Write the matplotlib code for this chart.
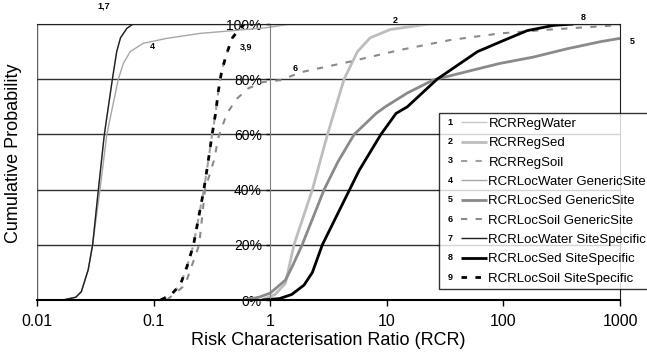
import matplotlib
matplotlib.use('Agg')
import matplotlib.pyplot as plt
from matplotlib.ticker import NullLocator
from matplotlib.legend_handler import HandlerLine2D
from matplotlib.text import Text

plt.rcParams['font.family'] = ['Liberation Sans', 'DejaVu Sans']

# cumulative distributions (RCR value, cumulative probability)
x1 = [0.0167, 0.0215, 0.024, 0.0275, 0.030, 0.0336, 0.0378, 0.0443, 0.048, 0.052, 0.059, 0.067]
p1 = [0, 0.01, 0.03, 0.11, 0.2, 0.4, 0.6, 0.8, 0.9, 0.95, 0.984, 1.0]
x2 = [0.85, 1.1, 1.35, 1.6, 2.3, 3.1, 4.3, 5.6, 7.2, 10.7, 23]
p2 = [0, 0.02, 0.06, 0.2, 0.4, 0.6, 0.8, 0.9, 0.95, 0.98, 1.0]
x3 = [0.115, 0.14, 0.169, 0.193, 0.22, 0.25, 0.27, 0.295, 0.315, 0.34, 0.36, 0.385, 0.425, 0.47, 0.535, 0.6]
p3 = [0, 0.018, 0.054, 0.12, 0.2, 0.326, 0.4, 0.507, 0.59, 0.676, 0.76, 0.833, 0.894, 0.948, 0.978, 1.0]
x4 = [0.0167, 0.0215, 0.024, 0.0275, 0.030, 0.0347, 0.0397, 0.0498, 0.055, 0.063, 0.0815, 0.13, 0.25, 0.48, 0.94, 1.5]
p4 = [0, 0.01, 0.03, 0.11, 0.2, 0.4, 0.6, 0.8, 0.857, 0.9, 0.93, 0.948, 0.966, 0.976, 0.987, 1.0]
x5 = [0.6, 0.8, 1.0, 1.35, 1.54, 1.88, 2.9, 3.8, 5.25, 8.1, 9.7, 15, 25, 48, 93, 180, 350, 680, 1000]
p5 = [0, 0.01, 0.025, 0.072, 0.12, 0.2, 0.4, 0.5, 0.6, 0.676, 0.7, 0.75, 0.797, 0.827, 0.857, 0.88, 0.91, 0.936, 0.948]
x6 = [0.13, 0.186, 0.246, 0.276, 0.33, 0.36, 0.425, 0.52, 0.65, 0.87, 1.25, 1.82, 4.87, 13, 35, 94, 253, 1000]
p6 = [0, 0.054, 0.2, 0.4, 0.507, 0.59, 0.676, 0.73, 0.767, 0.79, 0.797, 0.825, 0.864, 0.906, 0.942, 0.966, 0.98, 0.996]
x7 = [0.0167, 0.0215, 0.024, 0.0275, 0.030, 0.0336, 0.0378, 0.0443, 0.0483, 0.052, 0.0589, 0.0667]
p7 = [0, 0.01, 0.03, 0.11, 0.2, 0.4, 0.6, 0.8, 0.9, 0.95, 0.984, 1.0]
x8 = [0.85, 1.2, 1.53, 1.95, 2.3, 2.8, 4.8, 5.8, 8.9, 12, 15, 27, 60, 100, 160, 270, 400]
p8 = [0, 0.005, 0.02, 0.054, 0.1, 0.2, 0.4, 0.47, 0.6, 0.676, 0.7, 0.8, 0.9, 0.94, 0.976, 0.995, 1.0]
x9 = [0.115, 0.14, 0.169, 0.193, 0.22, 0.25, 0.27, 0.295, 0.315, 0.34, 0.36, 0.385, 0.425, 0.47, 0.535, 0.6]
p9 = [0, 0.018, 0.054, 0.12, 0.2, 0.326, 0.4, 0.507, 0.59, 0.676, 0.76, 0.833, 0.894, 0.948, 0.978, 1.0]

names = ['RCRRegWater', 'RCRRegSed', 'RCRRegSoil',
         'RCRLocWater GenericSite', 'RCRLocSed GenericSite', 'RCRLocSoil GenericSite',
         'RCRLocWater SiteSpecific', 'RCRLocSed SiteSpecific', 'RCRLocSoil SiteSpecific']

xticks = [0.01, 0.1, 1, 10, 100, 1000]
xtick_labels = ['0.01', '0.1', '1', '10', '100', '1000']
yticks = [0, 0.2, 0.4, 0.6, 0.8, 1.0]
ytick_labels = ['0%', '20%', '40%', '60%', '80%', '100%']

# curve tags (text, x, y)
tags = [('1,7', 0.037, 1.065), ('4', 0.097, 0.917), ('3,9', 0.62, 0.917),
        ('6', 1.64, 0.84), ('2', 11.8, 1.014), ('8', 486, 1.025), ('5', 1280, 0.935)]


class NumberedHandler(HandlerLine2D):
    def __init__(self, num):
        super().__init__()
        self.num = num

    def create_artists(self, legend, orig_handle, xdescent, ydescent, width, height, fontsize, trans):
        shift = 0.4 * width
        arts = super().create_artists(legend, orig_handle, xdescent - shift, ydescent,
                                      width - shift, height, fontsize, trans)
        t = Text(-xdescent + 3, height / 2 - ydescent, self.num, fontsize=6.5,
                 fontweight='bold', ha='left', va='center', transform=trans)
        return arts + [t]


fig = plt.figure(figsize=(6.47, 3.55), dpi=100)
ax = fig.add_axes([37 / 647, 55 / 355, 583 / 647, 276 / 355])

styles = [
    dict(color='#c8c8c8', lw=1.0),
    dict(color='#bdbdbd', lw=2.0),
    dict(color='#a0a0a0', lw=1.5, ls=(0, (3, 4))),
    dict(color='#a6a6a6', lw=1.0),
    dict(color='#8a8a8a', lw=2.0),
    dict(color='#8a8a8a', lw=1.5, ls=(0, (3, 4))),
    dict(color='#202020', lw=1.0),
    dict(color='black', lw=2.0),
    dict(color='black', lw=2.0, ls=(0, (2, 3))),
]
xs = [x1, x2, x3, x4, x5, x6, x7, x8, x9]
ps = [p1, p2, p3, p4, p5, p6, p7, p8, p9]

lines = []
for i in range(9):
    ln, = ax.plot(xs[i], ps[i], label=names[i], solid_capstyle='butt', **styles[i])
    lines.append(ln)

ax.set_xscale('log')
ax.set_xlim(0.01, 1000)
ax.set_ylim(0, 1)
ax.set_xticks(xticks)
ax.set_xticklabels(xtick_labels, fontsize=11.5)
ax.xaxis.set_minor_locator(NullLocator())
ax.set_yticks(yticks)
ax.set_yticklabels(ytick_labels, fontsize=11.5)
ax.tick_params(axis='x', direction='out', length=4, width=1, pad=6)
ax.tick_params(axis='y', direction='out', length=3, width=1, pad=3)

ax.spines['left'].set_position(('data', 1))
ax.spines['left'].set_color('#808080')
for s in ['top', 'right']:
    ax.spines[s].set_color('#202020')
ax.spines['bottom'].set_linewidth(1.5)
ax.axvline(0.01, color='#606060', lw=1, zorder=0.5)
ax.yaxis.grid(True, color='#303030', lw=1)
ax.set_axisbelow(True)

ax.set_xlabel('Risk Characterisation Ratio (RCR)', fontsize=13, labelpad=2)
ax.set_ylabel('Cumulative Probability', fontsize=13)
ax.yaxis.set_label_coords(-0.026, 0.53)

for txt, tx, ty in tags:
    ax.text(tx, ty, txt, fontsize=6.5, fontweight='bold', ha='center', va='center', clip_on=False)

hmap = {ln: NumberedHandler(str(i + 1)) for i, ln in enumerate(lines)}
leg = fig.legend(handles=lines, handler_map=hmap, loc='upper left',
                 bbox_to_anchor=(439 / 647, 1 - 113 / 355), bbox_transform=fig.transFigure,
                 fontsize=9.5, frameon=True, fancybox=False, borderaxespad=0,
                 handlelength=3.25, handletextpad=0.15, labelspacing=0.54, borderpad=0.35)
leg.get_frame().set_edgecolor('black')
leg.get_frame().set_linewidth(1)

fig.savefig('out.png', dpi=100)
